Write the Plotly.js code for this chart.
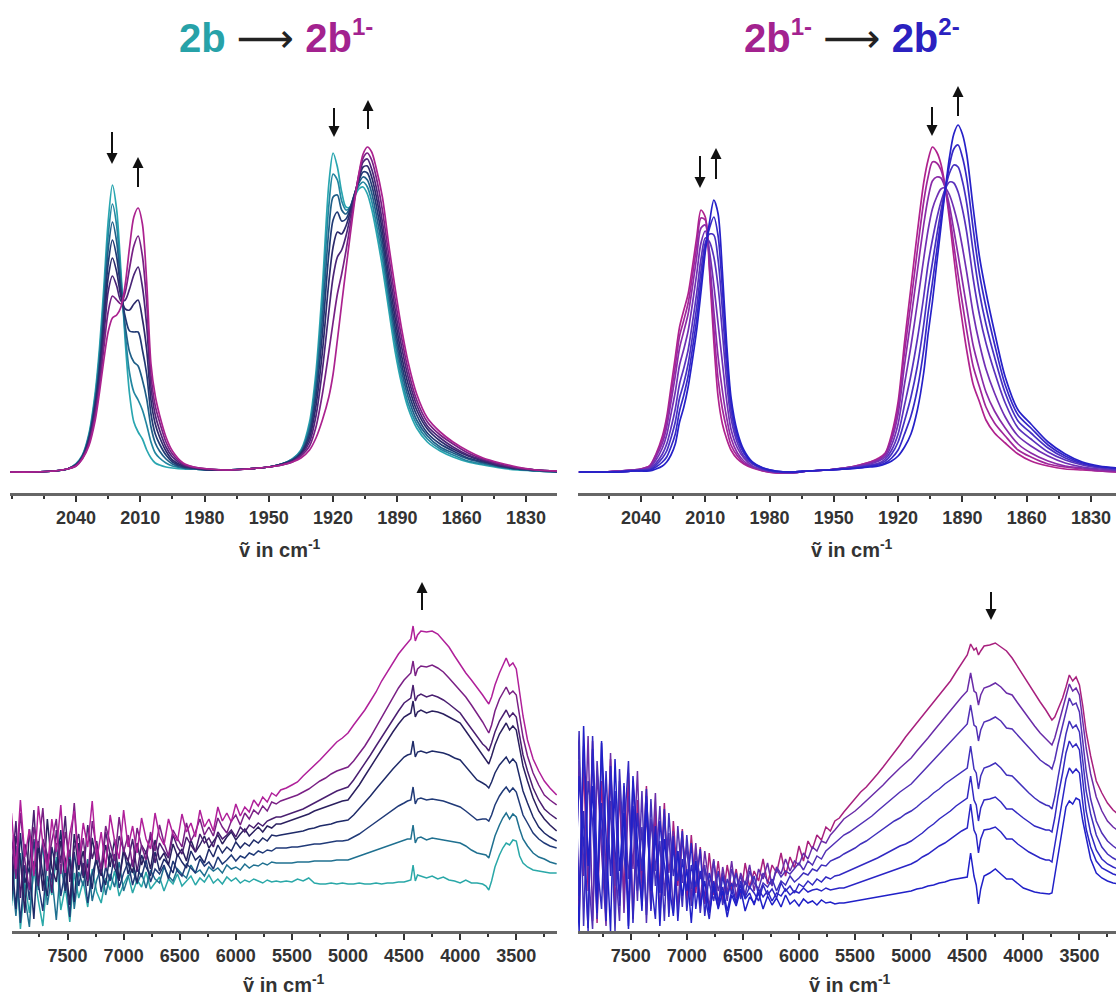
<!DOCTYPE html>
<html><head><meta charset="utf-8">
<script src="https://cdn.plot.ly/plotly-3.0.1.min.js"></script>
<style>html,body{margin:0;padding:0;background:#fff}#chart{width:1116px;height:998px}</style>
</head><body><div id="chart"></div>
<script>
// ---------- IR region (wavenumber in cm-1) ----------
const TL_x = [2071,2060,2050,2044,2040,2037,2034,2031,2029,2027,2025,2023,2021,2019,2017,2015,2013,2011,2009,2007,2005,2003,2001,1998,1995,1990,1985,1978,1970,1960,1950,1944,1939,1935,1931,1928,1925,1922,1920,1918,1916,1914,1912,1910,1908,1906,1904,1902,1900,1897,1894,1891,1888,1885,1881,1876,1870,1864,1857,1850,1842,1834,1825,1815];
const TL_c0 = [0,0,1,3,8,17,38,80,125,185,250,287,262,200,130,78,50,40,33,22,14,9,7,5,4,3,3,2,2,3,5,8,13,22,50,100,185,288,319,305,280,265,265,275,283,285,278,263,242,205,162,120,88,64,44,30,21,15,10,7,4,2,1,0];
const TL_c1 = [0,0,1,3,8,16,36,76,118,175,236,268,246,193,138,99,80,72,62,47,30,19,14,9,6,4,3,2,2,3,5,8,13,21,46,92,170,266,298,292,271,262,265,277,286,290,285,271,250,214,170,128,94,69,48,33,23,17,11,8,5,3,1,0];
const TL_c2 = [0,0,1,3,7,16,35,72,111,165,222,250,230,186,146,120,110,106,92,73,45,29,21,13,8,4,3,2,2,3,5,8,12,20,42,84,154,242,275,277,262,258,265,278,289,295,292,279,259,223,178,136,101,75,52,36,25,19,13,9,5,3,1,0];
const TL_c3 = [0,0,1,3,7,15,33,69,105,155,208,232,215,180,155,141,140,140,122,98,58,38,28,17,10,5,4,2,2,3,5,8,12,19,38,75,138,218,252,260,251,253,263,278,291,300,299,287,268,232,186,144,108,81,57,39,28,21,14,10,6,3,2,0];
const TL_c4 = [0,0,1,3,7,15,32,65,98,145,194,214,200,175,163,162,168,172,153,122,72,48,35,21,12,6,4,2,2,3,5,8,11,18,34,66,120,190,225,240,238,246,260,277,293,305,306,295,277,241,195,153,116,88,62,43,31,23,16,11,6,4,2,1];
const TL_c5 = [0,0,1,3,7,14,30,61,92,135,180,196,186,171,172,183,197,205,185,146,85,57,42,25,15,7,4,3,2,3,5,7,11,17,30,56,102,160,195,215,222,236,255,275,295,310,313,303,286,250,205,162,125,95,67,46,34,25,17,12,7,4,2,1];
const TL_c6 = [0,0,1,3,6,14,28,57,86,124,160,176,172,168,180,204,226,236,216,169,97,66,50,30,18,8,5,3,2,3,5,7,10,16,26,45,78,120,150,178,198,221,247,273,297,314,319,312,296,262,216,172,134,102,72,50,37,28,19,13,8,4,2,1];
const TL_c7 = [0,0,1,3,6,13,26,52,80,112,140,154,157,165,188,225,255,264,248,190,108,76,57,35,21,9,5,3,2,3,5,7,10,14,22,34,52,75,98,132,168,203,237,270,298,318,325,320,305,275,227,183,143,110,78,54,40,30,21,14,9,5,2,1];

const TR_x = [2069,2060,2050,2044,2040,2036,2033,2030,2028,2026,2024,2022,2020,2018,2016,2014,2012,2010,2008,2006,2004,2002,2000,1998,1995,1992,1988,1983,1977,1970,1962,1953,1945,1938,1933,1929,1926,1923,1920,1917,1914,1911,1908,1906,1904,1902,1900,1898,1896,1894,1892,1890,1888,1885,1882,1879,1875,1870,1864,1858,1850,1842,1834,1826,1818];
const TR_c0 = [0,0,1,2,3,6,18,36,55,85,115,145,162,178,205,235,262,255,200,130,75,48,33,22,13,8,4,1,-1,-1,1,2,4,7,10,14,19,38,70,130,185,240,290,312,325,320,308,285,252,215,180,150,122,88,70,52,39,29,18,11,6,3,2,1,0];
const TR_c1 = [0,0,1,2,3,6,17,33,51,78,106,136,152,169,196,226,254,252,205,144,93,63,43,27,16,9,5,1,-1,-1,1,2,4,7,10,13,18,35,65,120,170,222,271,295,310,309,302,285,258,227,197,169,142,106,85,65,49,36,22,15,8,5,3,1,0];
const TR_c2 = [0,0,1,2,3,5,15,29,45,70,96,124,141,158,185,215,244,247,211,161,115,81,54,34,19,11,5,2,0,-1,1,2,4,6,9,12,17,32,58,107,153,201,248,274,291,295,294,284,266,242,217,191,165,127,102,80,61,44,28,19,11,6,4,2,1];
const TR_c3 = [0,0,1,2,2,4,12,24,37,58,80,107,123,141,168,198,229,241,220,187,148,109,71,43,24,14,6,2,0,-1,1,2,4,6,8,11,15,27,48,88,126,169,214,242,263,275,283,284,277,264,247,225,200,159,128,103,79,55,36,26,16,9,5,3,2];
const TR_c4 = [0,0,0,1,2,3,9,18,28,44,63,88,104,122,149,179,213,234,230,215,185,139,90,54,29,16,8,3,0,0,1,2,3,5,7,9,13,22,38,67,97,133,176,208,232,253,270,283,290,289,280,263,240,194,157,129,100,69,44,33,20,12,7,4,2];
const TR_c5 = [0,0,0,1,2,2,7,14,21,34,50,74,89,108,135,165,201,229,238,237,212,162,104,62,33,19,9,3,0,0,1,2,3,5,6,8,11,18,30,51,75,106,148,182,209,236,261,283,299,307,305,291,269,221,179,148,115,79,51,39,24,14,8,5,3];
const TR_c6 = [0,0,0,1,1,2,5,10,15,25,38,61,77,96,123,153,190,224,244,255,236,182,117,69,37,20,9,4,1,0,1,2,3,4,6,7,9,14,22,38,56,83,123,159,189,221,253,282,307,323,327,315,294,244,198,165,128,87,57,44,27,16,9,5,4];
const TR_c7 = [0,0,0,1,1,1,3,6,10,17,28,50,65,85,112,142,180,220,250,272,258,200,128,75,40,22,10,4,1,0,1,2,3,4,5,6,8,11,16,25,38,62,100,138,170,208,245,282,315,338,347,338,318,265,215,180,140,95,62,48,30,18,10,6,4];

// ---------- NIR region ----------
const NIR_x = [8000,7960,7920,7880,7840,7800,7760,7720,7680,7640,7600,7560,7520,7480,7440,7400,7360,7320,7280,7240,7200,7160,7120,7080,7040,7000,6960,6920,6880,6840,6800,6760,6720,6680,6640,6600,6560,6520,6480,6440,6400,6360,6320,6280,6240,6200,6160,6120,6080,6040,6000,5960,5920,5880,5840,5800,5760,5720,5680,5640,
 5600,5550,5500,5450,5400,5350,5300,5250,5200,5150,5100,5050,5000,4950,4900,4850,4800,4750,4700,4650,4600,4550,4500,4470,4440,4420,4400,4380,4350,4300,4250,4200,4150,4100,4050,4000,3950,3900,3850,3800,3770,3745,3720,3690,3650,3620,3590,3560,3530,3500,3470,3440,3400,3350,3300,3250,3200,3140];

const BL_c0 = [25,70,2,48,18,61,30,5,55,36,74,21,44,9,58,33,50,24,62,39,28,53,41,60,35,47,56,38,51,44,59,42,48,54,40,52,47,57,45,50,55,46,53,49,56,48,52,47,54,50,53,48,51,49,52,50,48,51,49,50,
 49,50,49,52,50,53,48,47,47,48,47,48,47,47,48,47,47,48,47,48,48,49,49,50,51,66,50,56,55,53,55,52,54,51,50,48,51,48,48,47,45,41,50,64,76,83,88,86,91,90,75,68,64,61,60,59,58,58];
const BL_c1 = [62,15,78,34,4,70,41,88,26,55,11,67,38,81,22,59,45,72,30,51,64,36,57,44,69,40,54,62,47,58,43,61,52,48,64,55,50,62,57,53,66,58,61,55,64,60,63,58,66,62,64,61,67,63,66,65,68,66,69,68,
 68,68,68,69,69,69,70,70,70,70,71,71,71,73,75,77,79,81,83,85,87,89,91,92,92,106,88,93,94,91,93,92,91,90,89,88,85,81,78,77,76,73,82,95,106,113,118,112,117,114,102,92,85,78,74,72,69,67];
const BL_c2 = [40,85,8,66,31,92,47,20,74,52,88,35,61,14,79,45,68,28,57,73,39,64,50,77,43,58,69,46,63,54,71,49,62,57,66,52,70,60,55,67,63,58,72,65,69,62,74,67,71,76,70,75,73,78,76,80,78,81,80,83,
 83,83,84,84,85,86,87,87,88,89,90,90,91,94,97,101,105,109,113,117,121,125,128,130,131,144,127,132,133,131,132,131,130,128,126,124,120,115,111,112,112,110,116,126,135,140,144,139,143,139,127,116,108,98,92,88,85,83];
const BL_c3 = [77,22,98,48,64,12,90,56,35,84,61,101,40,72,29,88,53,67,42,80,59,46,78,63,51,83,57,71,48,76,64,55,79,60,72,66,58,77,69,63,80,71,75,68,82,74,86,78,84,80,89,83,88,85,91,88,93,90,96,95,
 96,97,98,99,100,102,103,105,106,107,109,110,111,116,122,128,135,142,149,156,162,168,174,176,177,190,174,179,180,178,180,179,178,176,173,171,164,158,151,148,146,143,149,158,166,170,174,168,172,168,154,140,128,114,104,98,94,90];
const BL_c4 = [30,95,71,18,102,57,84,40,112,63,49,90,72,26,97,61,80,45,93,68,55,86,64,92,50,79,70,58,88,66,80,62,91,71,78,66,87,75,82,70,91,79,86,95,83,90,96,87,94,99,91,97,102,95,100,104,99,105,103,107,
 107,109,111,113,115,117,120,122,124,126,128,130,131,138,146,155,164,173,182,191,199,207,214,216,218,230,214,219,221,218,220,219,217,214,211,208,200,192,184,175,171,167,175,186,197,203,208,201,205,201,183,165,150,133,120,112,106,100];
const BL_c5 = [58,110,33,87,64,121,45,92,76,38,101,68,115,49,83,97,55,106,72,90,58,99,76,63,95,81,70,92,59,86,78,95,68,88,80,73,96,84,77,94,86,79,97,88,93,84,99,92,96,101,94,104,99,106,103,108,105,110,112,114,
 114,116,118,120,122,125,128,131,134,137,140,142,144,151,159,167,176,185,194,203,212,220,228,231,233,246,230,235,237,234,236,234,231,227,222,218,210,202,194,187,184,180,188,199,210,216,221,214,218,214,195,176,160,143,131,122,117,112];
const BL_c6 = [96,52,118,70,41,104,83,123,60,90,112,57,99,74,128,66,93,50,110,81,62,105,88,70,114,79,96,64,103,85,71,99,80,106,88,75,101,92,84,108,90,99,112,96,104,95,113,104,98,110,116,106,118,112,121,117,125,120,129,127,
 130,132,134,136,139,142,146,150,153,157,160,162,164,170,177,185,194,204,214,224,233,243,251,255,258,270,255,262,265,264,266,263,259,253,247,241,234,226,218,209,203,198,206,220,232,238,244,237,240,236,215,194,175,158,146,136,131,126];
const BL_c7 = [118,62,131,74,102,55,125,88,60,112,79,126,58,97,120,66,108,84,130,71,99,63,116,90,72,121,84,105,78,113,92,82,118,95,86,112,97,90,117,99,108,94,121,104,112,100,124,110,118,109,127,115,124,119,131,125,134,129,138,135,
 141,143,146,149,155,160,165,171,177,183,189,193,198,206,213,221,230,239,250,259,268,277,284,288,292,305,290,296,300,299,300,297,291,284,275,266,258,251,244,236,231,227,234,246,258,266,273,265,268,262,240,215,191,172,160,150,143,136];

const BR_c0 = [180,15,165,40,190,8,150,60,172,20,140,35,158,12,131,48,145,22,120,40,128,18,110,45,102,30,96,38,84,27,78,36,70,30,66,41,62,35,68,44,60,50,72,47,66,58,78,55,74,63,85,70,90,82,96,91,104,100,110,113,
 119,126,132,139,144,150,157,164,171,178,186,194,201,208,216,223,230,237,243,250,259,268,276,287,281,283,276,280,285,286,288,284,280,273,264,255,246,238,229,221,216,211,214,222,233,244,256,250,254,246,225,199,175,150,138,128,121,115];
const BR_c1 = [20,170,55,195,10,160,80,5,178,45,150,18,135,62,160,25,118,50,138,14,115,58,100,22,92,60,35,88,28,80,45,72,26,64,38,70,33,58,46,66,40,62,52,68,45,64,57,72,60,70,66,78,72,84,80,90,88,96,101,106,
 112,116,120,125,130,135,140,146,152,158,163,168,173,180,186,193,200,207,214,221,228,234,240,258,240,238,226,236,243,245,248,244,238,236,228,220,213,205,198,192,189,186,193,206,222,236,247,240,243,236,210,183,157,134,120,110,104,99];
const BR_c2 = [140,30,185,62,2,170,95,25,155,70,10,145,52,120,30,140,8,112,60,125,35,98,18,105,48,85,25,78,52,66,22,70,40,58,30,62,44,55,36,60,48,42,58,50,46,62,54,60,57,63,68,61,70,66,75,72,80,84,88,92,
 96,99,103,107,111,115,120,125,130,135,139,143,147,153,159,165,171,177,183,189,195,201,207,226,206,204,190,201,209,211,214,210,203,202,196,190,184,177,171,167,165,162,171,187,206,222,233,226,228,219,190,160,132,110,98,90,85,80];
const BR_c3 = [60,200,5,150,110,12,188,40,130,0,162,75,28,150,40,104,16,132,45,90,10,118,55,80,24,96,42,70,18,62,48,30,60,26,52,38,58,32,50,42,55,36,48,44,52,40,50,46,55,49,53,58,56,62,60,66,65,70,72,74,
 77,80,83,87,90,94,98,102,106,110,113,117,120,124,129,133,138,142,147,151,155,159,163,185,162,158,142,155,163,165,168,163,156,155,149,143,138,133,129,126,125,122,134,154,177,197,210,203,206,199,170,140,117,96,84,77,73,69];
const BR_c4 = [175,35,120,0,195,70,22,160,55,140,25,100,170,8,118,60,142,20,98,38,122,14,84,50,100,20,66,44,82,15,58,40,24,54,36,48,28,50,34,44,38,30,46,36,42,33,48,40,45,38,47,44,50,46,52,49,54,52,55,56,
 58,60,63,65,68,70,73,76,79,82,85,87,90,94,98,103,107,112,116,120,125,129,133,155,131,126,110,123,131,132,134,129,122,122,117,113,109,105,103,101,101,99,113,135,158,178,190,184,187,181,150,120,98,81,72,67,64,61];
const BR_c5 = [30,155,88,3,182,45,128,10,165,80,35,148,5,125,68,30,135,52,12,110,66,30,95,10,72,40,88,22,60,34,12,50,30,44,20,40,28,46,32,38,26,42,34,40,30,38,35,42,36,40,38,43,39,41,42,40,43,41,42,43,
 43,45,47,49,51,53,55,57,59,61,63,65,67,70,74,77,81,85,88,92,96,100,103,127,101,96,78,92,101,102,104,99,92,92,87,83,79,76,73,71,71,69,85,108,132,152,163,158,162,158,128,102,84,70,63,60,57,55];
const BR_c6 = [110,0,205,65,145,18,190,95,0,172,60,118,2,155,85,20,128,40,105,5,92,48,15,80,35,62,8,70,25,50,18,45,22,40,14,36,25,42,20,34,28,38,22,35,26,33,24,36,27,31,25,32,28,30,26,31,28,29,27,28,
 28,29,30,31,32,33,34,35,36,37,38,39,40,42,43,45,46,48,49,51,52,53,54,78,55,46,27,42,55,58,62,57,52,52,47,43,41,39,38,37,37,38,55,80,106,124,130,127,133,131,110,94,72,58,53,50,48,47];

// tick labels
const IR_ticks = [2040,2010,1980,1950,1920,1890,1860,1830];
const NIR_ticks = [7500,7000,6500,6000,5500,5000,4500,4000,3500];

// colours
const TL_colors = ['#2aa6b0','#2386a0','#1f5f88','#213a74','#2c2a6b','#4a2577','#762184','#ab228f'];
const TR_colors = ['#b0228e','#a0269a','#8a2ba8','#7030b4','#5a32bd','#4630c2','#3628c5','#2620c8'];
const BL_colors = ['#2aa8a8','#1f7090','#203a78','#1e2a68','#2a1f5e','#4a1f70','#7a2085','#b0209a'];
const BR_colors = ['#a8207e','#6a2ca8','#5230b5','#4030bc','#3229c2','#2a25c6','#2020c8'];

const TL = [TL_c0,TL_c1,TL_c2,TL_c3,TL_c4,TL_c5,TL_c6,TL_c7];
const TR = [TR_c0,TR_c1,TR_c2,TR_c3,TR_c4,TR_c5,TR_c6,TR_c7];
const BL = [BL_c0,BL_c1,BL_c2,BL_c3,BL_c4,BL_c5,BL_c6,BL_c7];
const BR = [BR_c0,BR_c1,BR_c2,BR_c3,BR_c4,BR_c5,BR_c6];

const traces = [];
TL.forEach((y,i)=>traces.push({x:TL_x,y:y,xaxis:'x',yaxis:'y',type:'scatter',mode:'lines',line:{color:TL_colors[i],width:1.7,shape:'spline',smoothing:0.8},hoverinfo:'skip'}));
TR.forEach((y,i)=>traces.push({x:TR_x,y:y,xaxis:'x2',yaxis:'y2',type:'scatter',mode:'lines',line:{color:TR_colors[i],width:1.7,shape:'spline',smoothing:0.8},hoverinfo:'skip'}));
BL.forEach((y,i)=>traces.push({x:NIR_x,y:y,xaxis:'x3',yaxis:'y3',type:'scatter',mode:'lines',line:{color:BL_colors[i],width:1.5},hoverinfo:'skip'}));
BR.forEach((y,i)=>traces.push({x:NIR_x,y:y,xaxis:'x4',yaxis:'y4',type:'scatter',mode:'lines',line:{color:BR_colors[i],width:1.5},hoverinfo:'skip'}));

const W=1116, H=998;
const FONT='Liberation Sans, Arial, DejaVu Sans, sans-serif';
function xa(d0,d1,range,ticks,minor,anchor){
  return {domain:[d0/W,d1/W],range:range,anchor:anchor,showline:true,linecolor:'#666',linewidth:3,
    ticks:'outside',ticklen:6,tickwidth:2,tickcolor:'#333',tickmode:'array',tickvals:ticks,
    minor:{dtick:minor,ticks:'outside',ticklen:3,tickwidth:2,tickcolor:'#333'},
    tickfont:{family:FONT,size:18,color:'#333',weight:'bold'},ticklabelstandoff:0,
    showgrid:false,zeroline:false,fixedrange:true};
}
function ya(top,bottom,base,anchor){
  return {domain:[(H-bottom)/H,(H-top)/H],range:[base-bottom,base-top],anchor:anchor,visible:false,fixedrange:true};
}
function arrow(px,pyHead,len){
  return {xref:'paper',yref:'paper',x:px/W,y:(H-pyHead)/H,ax:0,ay:len,text:' ',showarrow:true,
    arrowhead:2,arrowsize:1.1,arrowwidth:2,arrowcolor:'#111',standoff:0,font:{size:4}};
}
function lab(px,py,txt,size){
  return {xref:'paper',yref:'paper',x:px/W,y:(H-py)/H,xanchor:'center',yanchor:'middle',showarrow:false,
    text:txt,font:{family:FONT,size:size,color:'#333',weight:'bold'}};
}
const axTitle='ṽ in cm<sup>-1</sup>';
const ARW='<span style="font-weight:normal;color:#222;font-family:DejaVu Sans">⟶</span>';
const layout={
  width:W,height:H,margin:{l:0,r:0,t:0,b:0},paper_bgcolor:'#fff',plot_bgcolor:'#fff',showlegend:false,
  xaxis: xa(10,557,[2070.8,1815.5],IR_ticks,15,'y'),
  yaxis: ya(100,493,472,'x'),
  xaxis2:xa(578,1116,[2069.4,1818.3],IR_ticks,15,'y2'),
  yaxis2:ya(100,493,472,'x2'),
  xaxis3:xa(12,557,[7995,3137],NIR_ticks,250,'y3'),
  yaxis3:ya(560,931,931,'x3'),
  xaxis4:xa(578,1116,[7970,3174],NIR_ticks,250,'y4'),
  yaxis4:ya(560,931,931,'x4'),
  annotations:[
    {xref:'paper',yref:'paper',x:276/W,y:(H-37)/H,xanchor:'center',yanchor:'middle',showarrow:false,
     text:'<span style="color:#27a2a8">2b</span> '+ARW+' <span style="color:#a3228f">2b<sup><span style="font-size:24px">1-</span></sup></span>',
     font:{family:FONT,size:40,weight:'bold'}},
    {xref:'paper',yref:'paper',x:852/W,y:(H-37)/H,xanchor:'center',yanchor:'middle',showarrow:false,
     text:'<span style="color:#a3228f">2b<sup><span style="font-size:24px">1-</span></sup></span> '+ARW+' <span style="color:#2b21c0">2b<sup><span style="font-size:24px">2-</span></sup></span>',
     font:{family:FONT,size:40,weight:'bold'}},
    lab(280,549,axTitle,20), lab(852,549,axTitle,20),
    lab(284,983,axTitle,20), lab(850,983,axTitle,20),
    arrow(112,164,-36), arrow(138,157,34), arrow(334,137,-33), arrow(368,100,33),
    arrow(700,188,-36), arrow(716,148,35), arrow(932,136,-33), arrow(958,86,34),
    arrow(422,582,32), arrow(991,620,-32)
  ]
};
Plotly.newPlot('chart',traces,layout,{staticPlot:true,displayModeBar:false});
</script></body></html>
